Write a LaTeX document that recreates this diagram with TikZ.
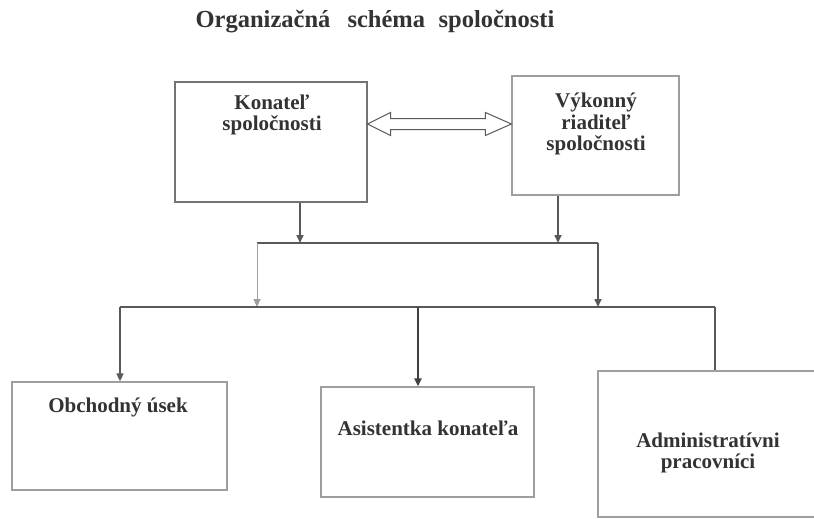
\documentclass[tikz,border=0pt]{standalone}
\usepackage{fontspec}
\setmainfont{Liberation Serif}
\usetikzlibrary{arrows.meta}
\definecolor{ink}{gray}{0.35}
\definecolor{frame}{gray}{0.62}
\begin{document}
\begin{tikzpicture}[x=1pt,y=-1pt,
		box/.style={draw=frame,line width=1.2pt,inner sep=0pt},
		label text/.style={font=\fontsize{21}{21.5}\selectfont\bfseries,text=black!80,align=center,inner sep=0pt},
		wire/.style={draw=ink,line width=1.6pt},
		tip/.style={-{Triangle[length=8pt,width=7pt]}}]
	\path[use as bounding box,clip] (0,0) rectangle (814,519);
	\fill[white] (0,0) rectangle (814,519);
	\node[anchor=base,font=\fontsize{24.5}{28}\selectfont\bfseries,text=black!80] (title) at (375,28) {Organizačná\hspace{0.7em}schéma\hspace{0.55em}spoločnosti};
	\node[box,draw=black!55,minimum width=192pt,minimum height=120pt] (kon) at (271,142) {};
	\node[box,minimum width=167pt,minimum height=119pt] (vyk) at (595.5,135.5) {};
	\node[box,minimum width=215pt,minimum height=108pt] (obch) at (119.5,436) {};
	\node[box,minimum width=213pt,minimum height=110pt] (asist) at (427.5,442) {};
	\node[box,minimum width=232pt,minimum height=146pt] (admin) at (714,444) {};
	\node[label text] (konT) at (272,115) {Konateľ\\spoločnosti};
	\node[label text] (vykT) at (596,124) {Výkonný\\riaditeľ\\spoločnosti};
	\node[label text,anchor=base] (obchT) at (118,412) {Obchodný úsek};
	\node[label text,anchor=base] (asistT) at (428,435) {Asistentka konateľa};
	\node[label text] (adminT) at (708,453) {Administratívni\\pracovníci};
	\coordinate (dbl) at (0,124);
	\coordinate (dblL) at (kon.east |- dbl);
	\coordinate (dblR) at (vyk.west |- dbl);
	\coordinate (kdrop) at (300,243);
	\coordinate (vdrop) at (558,243);
	\coordinate (busL) at (257,243);
	\coordinate (busR) at (598,243);
	\coordinate (lowL) at (120,307);
	\coordinate (lowM) at (418,307);
	\coordinate (lowR) at (715,307);
	\draw[draw=ink,line width=1pt,line join=miter] (dblL) -- ([shift={(23,-11.5)}]dblL) -- ([shift={(23,-5.5)}]dblL)
		-- ([shift={(-26,-5.5)}]dblR) -- ([shift={(-26,-11.5)}]dblR) -- (dblR)
		-- ([shift={(-26,11.5)}]dblR) -- ([shift={(-26,5.5)}]dblR)
		-- ([shift={(23,5.5)}]dblL) -- ([shift={(23,11.5)}]dblL) -- cycle;
	\draw[wire,tip] (kon.south -| kdrop) -- (kdrop);
	\draw[wire,tip] (vyk.south -| vdrop) -- (vdrop);
	\draw[wire] (busL) -- (busR);
	\draw[wire,draw=frame,line width=1pt,tip] (busL) -- (busL |- lowL);
	\draw[wire,tip] (busR) -- (busR |- lowR);
	\draw[wire] (lowL) -- (lowR);
	\draw[wire,tip] (lowL) -- (obch.north -| lowL);
	\draw[wire,draw=black!75,line width=2.4pt,tip] (lowM) -- (asist.north -| lowM);
	\draw[wire] (lowR) -- (admin.north -| lowR);
\end{tikzpicture}
\end{document}
